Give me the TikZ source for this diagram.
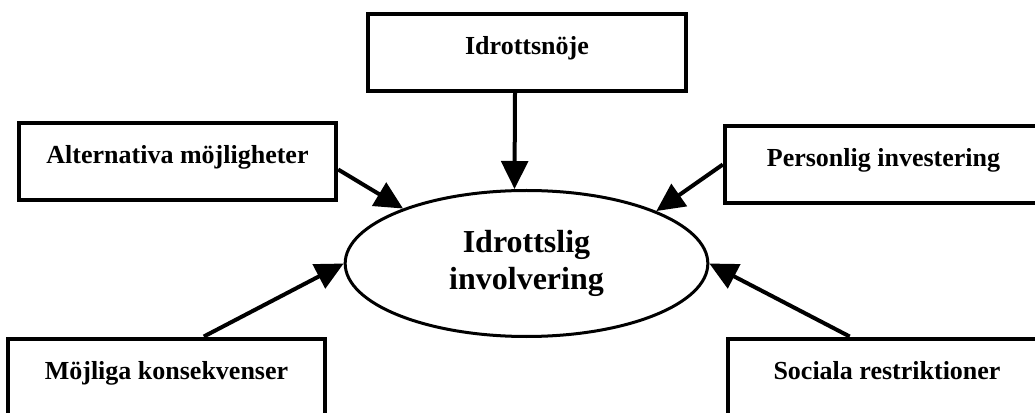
\documentclass[tikz,border=0pt]{standalone}
\usepackage{fontspec}
\setmainfont{Liberation Serif}
\usetikzlibrary{shapes.geometric,arrows.meta}

\begin{document}
\begin{tikzpicture}[x=0.75pt, y=-0.75pt,
    factor/.style={draw, line width=3pt, inner sep=0pt, align=center,
        minimum width=238pt, minimum height=57.75pt, text height=14pt, text depth=11pt,
        font=\bfseries\fontsize{19.5}{23}\selectfont},
    effect/.style={-{Triangle[length=21pt,width=20pt]}, line width=3pt}]
    % Set picture size and cut the boxes at the edges
    \useasboundingbox (0,0) rectangle (1035,413);
    \clip (0,0) rectangle (1035,413);

    % Draw centre ellipse and label
    \node[draw, ellipse, line width=2.25pt, inner sep=0pt, align=center,
        minimum width=272pt, minimum height=109.5pt,
        font=\bfseries\fontsize{24}{28}\selectfont] at (526.5, 263.5) (inv) {Idrottslig\\involvering};

    % Draw the five boxes round it
    \node[factor] at (527, 52.5) (noje) {Idrottsnöje};
    \node[factor] at (177.5, 161.5) (alt) {Alternativa möjligheter};
    \node[factor] at (883.5, 164.5) (pers) {Personlig investering};
    \node[factor] at (166.5, 377) (konsek) {Möjliga konsekvenser};
    \node[factor] at (887, 377) (restr) {Sociala restriktioner};

    % Draw arrows into the ellipse
    \draw[effect] ([xshift=-9pt]noje.south) -- ([xshift=-9pt]inv.north);
    \draw[effect] ([yshift=-6pt]alt.east) -- (inv.156);
    \draw[effect] (pers.west) -- (inv.22);
    \draw[effect] ([xshift=28pt]konsek.north) -- (inv.west);
    \draw[effect] ([xshift=-28pt]restr.north) -- (inv.east);
\end{tikzpicture}
\end{document}
